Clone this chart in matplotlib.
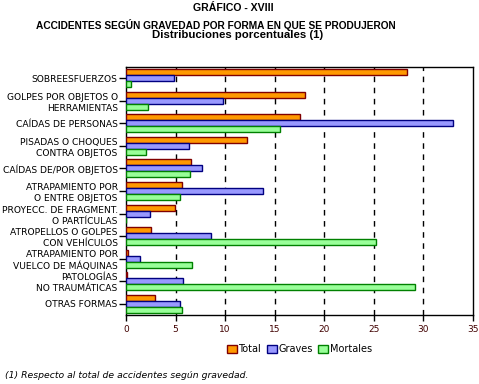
import numpy as np
import matplotlib
matplotlib.use("Agg")
import matplotlib.pyplot as plt

# data (percent)
categories = [
    "SOBREESFUERZOS",
    "GOLPES POR OBJETOS O\nHERRAMIENTAS",
    "CAÍDAS DE PERSONAS",
    "PISADAS O CHOQUES\nCONTRA OBJETOS",
    "CAÍDAS DE/POR OBJETOS",
    "ATRAPAMIENTO POR\nO ENTRE OBJETOS",
    "PROYECC. DE FRAGMENT.\nO PARTÍCULAS",
    "ATROPELLOS O GOLPES\nCON VEHÍCULOS",
    "ATRAPAMIENTO POR\nVUELCO DE MÁQUINAS",
    "PATOLOGÍAS\nNO TRAUMÁTICAS",
    "OTRAS FORMAS",
]
total = [28.3, 18.1, 17.5, 12.2, 6.6, 5.6, 4.9, 2.5, 0.25, 0.1, 2.9]
graves = [4.8, 9.8, 33.0, 6.4, 7.7, 13.8, 2.4, 8.6, 1.45, 5.7, 5.4]
mortales = [0.5, 2.2, 15.5, 2.0, 6.5, 5.4, 0.0, 25.2, 6.7, 29.2, 5.6]
series_names = ["Total", "Graves", "Mortales"]
xticks = [0, 5, 10, 15, 20, 25, 30, 35]

fig = plt.figure(figsize=(4.79, 3.84), dpi=100)
ax = fig.add_axes([126 / 479, 69 / 384, 347 / 479, 248 / 384])

y = np.arange(len(categories))
h = 0.265
ax.barh(y - h, total, height=h, color="#FF9900", edgecolor="#800000", linewidth=1, label=series_names[0], zorder=3)
ax.barh(y, graves, height=h, color="#9999FF", edgecolor="#000080", linewidth=1, label=series_names[1], zorder=3)
ax.barh(y + h, mortales, height=h, color="#99FF99", edgecolor="#008000", linewidth=1, label=series_names[2], zorder=3)

ax.set_xlim(0, 35)
ax.set_ylim(len(categories) - 0.5, -0.5)
ax.set_xticks(xticks)
ax.set_yticks(y)
ax.set_yticklabels(categories, fontsize=6.6, family="DejaVu Sans", multialignment="right", linespacing=1.3)
ax.tick_params(axis="x", labelsize=6.5, labelcolor="#400000", length=4, width=1, pad=3)
ax.tick_params(axis="y", length=5, width=1, pad=1)

for x in xticks[1:-1]:
    ax.axvline(x, color="black", linestyle=(0, (4, 4)), linewidth=1, zorder=1)
for s in ax.spines.values():
    s.set_linewidth(1)

ax.legend(loc="center", bbox_to_anchor=(0.5, -0.137), ncol=3, frameon=False,
          fontsize=7, handlelength=1.0, handleheight=0.9, handletextpad=0.15,
          columnspacing=0.6, borderaxespad=0)

fig.text(233 / 479, 1 - 8 / 384, "GRÁFICO - XVIII", ha="center", va="center",
         fontsize=7.6, fontweight="bold", family="Liberation Sans")
fig.text(216 / 479, 1 - 25 / 384, "ACCIDENTES SEGÚN GRAVEDAD POR FORMA EN QUE SE PRODUJERON",
         ha="center", va="center", fontsize=7.3, fontweight="bold", family="Liberation Sans")
fig.text(238 / 479, 1 - 35 / 384, "Distribuciones porcentuales (1)", ha="center", va="center",
         fontsize=8.2, fontweight="bold", family="Liberation Sans")
fig.text(5 / 479, 1 - 375 / 384, "(1) Respecto al total de accidentes según gravedad.",
         ha="left", va="center", fontsize=6.7, style="italic", family="DejaVu Sans")

fig.savefig("out.png", dpi=100)
